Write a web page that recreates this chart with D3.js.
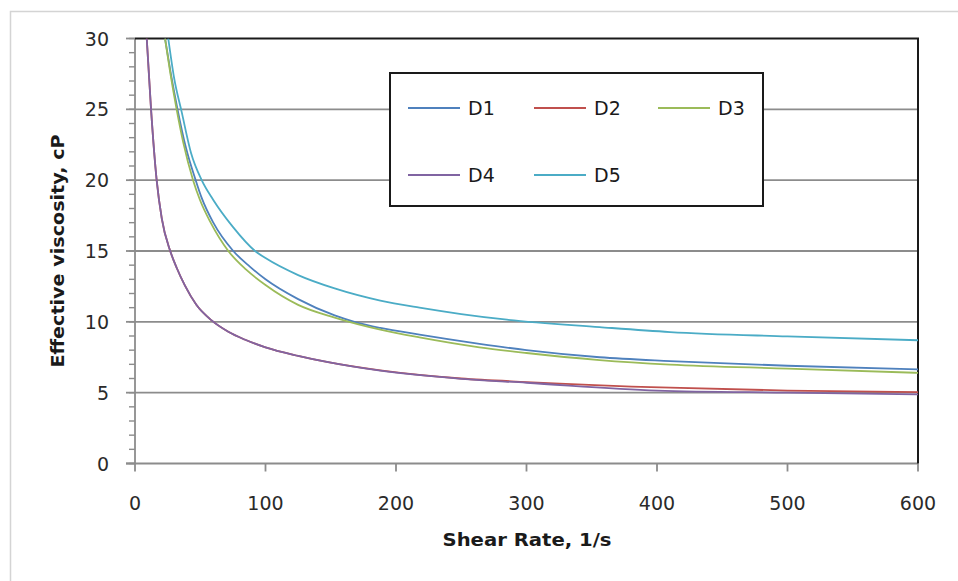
<!DOCTYPE html>
<html>
<head>
<meta charset="utf-8">
<script src="https://cdn.jsdelivr.net/npm/d3@7"></script>
<style>
  html, body { margin: 0; padding: 0; background: #ffffff; }
  svg { display: block; }
  text { font-family: "DejaVu Sans", Verdana, sans-serif; }
</style>
</head>
<body>
<svg id="chart" width="958" height="581"></svg>
<script>
// Effective viscosity (cP) versus shear rate (1/s) for five fluids
const seriesNames = ["D1", "D2", "D3", "D4", "D5"];
const seriesColors = ["#4f81bd", "#c0504d", "#9bbb59", "#8064a2", "#4bacc6"];

const d1Shear = [23, 27.5, 32.6, 39, 46.5, 51.1, 60, 75.3, 88, 100, 125, 153, 170, 188, 218, 264, 300, 356, 410, 500, 600];
const d1Visc  = [30, 27.5, 25, 22.3, 20, 18.75, 17, 15, 13.9, 13.0, 11.6, 10.45, 9.95, 9.57, 9.1, 8.45, 8.0, 7.5, 7.23, 6.9, 6.65];

const d2Shear = [9, 12.3, 16.6, 20.5, 27, 32, 38.3, 47, 58.7, 71.5, 84, 100, 125, 148, 188, 250, 300, 410, 500, 600];
const d2Visc  = [30, 25, 20, 17.3, 15, 13.8, 12.55, 11.2, 10.1, 9.3, 8.75, 8.2, 7.6, 7.15, 6.57, 6.0, 5.75, 5.35, 5.15, 5.04];

const d3Shear = [23, 27, 31.9, 37, 44.5, 49.8, 58, 71.5, 85, 100, 125, 153, 188, 218, 264, 300, 356, 410, 500, 600];
const d3Visc  = [30, 27.6, 25, 22.65, 20, 18.6, 17, 15, 13.7, 12.6, 11.2, 10.3, 9.45, 8.9, 8.2, 7.8, 7.3, 6.98, 6.7, 6.4];

const d4Shear = [9, 12.3, 16.6, 20.5, 27, 32, 38.3, 47, 58.7, 71.5, 84, 100, 125, 148, 188, 250, 300, 400, 500, 600];
const d4Visc  = [30, 25, 20, 17.3, 15, 13.8, 12.55, 11.2, 10.1, 9.3, 8.75, 8.2, 7.6, 7.15, 6.55, 5.98, 5.7, 5.15, 5.0, 4.88];

const d5Shear = [25.5, 30, 35.8, 43, 51.1, 60, 75, 92, 100, 125, 153, 188, 218, 250, 285, 356, 410, 500, 600];
const d5Visc  = [30, 27.2, 24.8, 21.9, 20, 18.6, 16.7, 15, 14.5, 13.3, 12.36, 11.5, 11.0, 10.55, 10.15, 9.63, 9.28, 8.97, 8.7];

const xTicks = [0, 100, 200, 300, 400, 500, 600];
const yTicks = [0, 5, 10, 15, 20, 25, 30];
const yMinorTicks = d3.range(0, 31, 1);

const seriesShear = [d1Shear, d2Shear, d3Shear, d4Shear, d5Shear];
const seriesVisc = [d1Visc, d2Visc, d3Visc, d4Visc, d5Visc];

const svg = d3.select("#chart");

// outer chart frame
svg.append("rect")
  .attr("x", 10.5).attr("y", 11.5)
  .attr("width", 960).attr("height", 600)
  .attr("fill", "#ffffff")
  .attr("stroke", "#d4d4d4").attr("stroke-width", 1.5);

const plot = { left: 135, right: 918, top: 38.5, bottom: 463.5 };

const x = d3.scaleLinear().domain([0, 600]).range([plot.left, plot.right]);
const y = d3.scaleLinear().domain([0, 30]).range([plot.bottom, plot.top]);

// horizontal gridlines
svg.append("g")
  .selectAll("line")
  .data(yTicks.filter(v => v > 0 && v < 30))
  .join("line")
  .attr("x1", plot.left).attr("x2", plot.right)
  .attr("y1", d => y(d)).attr("y2", d => y(d))
  .attr("stroke", "#8c8c8c").attr("stroke-width", 1.8);

// y axis: minor ticks every unit, major every five
const yAxisG = svg.append("g");
yAxisG.selectAll("line.minor")
  .data(yMinorTicks)
  .join("line")
  .attr("class", "minor")
  .attr("x1", plot.left - 6).attr("x2", plot.left)
  .attr("y1", d => y(d)).attr("y2", d => y(d))
  .attr("stroke", "#8c8c8c").attr("stroke-width", 1.4);
yAxisG.selectAll("line.major")
  .data(yTicks)
  .join("line")
  .attr("class", "major")
  .attr("x1", plot.left - 9).attr("x2", plot.left)
  .attr("y1", d => y(d)).attr("y2", d => y(d))
  .attr("stroke", "#8c8c8c").attr("stroke-width", 1.8);
yAxisG.append("line")
  .attr("x1", plot.left).attr("x2", plot.left)
  .attr("y1", plot.top).attr("y2", plot.bottom)
  .attr("stroke", "#8c8c8c").attr("stroke-width", 1.8);
yAxisG.selectAll("text")
  .data(yTicks)
  .join("text")
  .attr("x", 109).attr("y", d => y(d) + 7)
  .attr("text-anchor", "end")
  .attr("font-size", 19)
  .attr("fill", "#2a2a2a")
  .text(d => d);

// x axis
const xAxisG = svg.append("g");
xAxisG.append("line")
  .attr("x1", plot.left - 9).attr("x2", plot.right)
  .attr("y1", plot.bottom).attr("y2", plot.bottom)
  .attr("stroke", "#8c8c8c").attr("stroke-width", 1.8);
xAxisG.selectAll("line.tick")
  .data(xTicks)
  .join("line")
  .attr("class", "tick")
  .attr("x1", d => x(d)).attr("x2", d => x(d))
  .attr("y1", plot.bottom).attr("y2", plot.bottom + 8)
  .attr("stroke", "#8c8c8c").attr("stroke-width", 1.8);
xAxisG.selectAll("text")
  .data(xTicks)
  .join("text")
  .attr("x", d => x(d)).attr("y", 510)
  .attr("text-anchor", "middle")
  .attr("font-size", 19)
  .attr("fill", "#2a2a2a")
  .text(d => d);

// plot frame: dark top and right edges
svg.append("path")
  .attr("d", `M${plot.left},${plot.top}H${plot.right}V${plot.bottom}`)
  .attr("fill", "none")
  .attr("stroke", "#1a1a1a").attr("stroke-width", 2);

// curves
svg.append("clipPath").attr("id", "plotClip")
  .append("rect")
  .attr("x", plot.left).attr("y", plot.top)
  .attr("width", plot.right - plot.left).attr("height", plot.bottom - plot.top);

const line = d3.line()
  .x(d => x(d[0]))
  .y(d => y(d[1]))
  .curve(d3.curveMonotoneX);

const curves = svg.append("g").attr("clip-path", "url(#plotClip)");
// draw order so the later series sit on top
const drawOrder = [0, 2, 4, 1, 3];
drawOrder.forEach(i => {
  const pts = seriesShear[i].map((s, k) => [s, seriesVisc[i][k]]);
  curves.append("path")
    .attr("d", line(pts))
    .attr("fill", "none")
    .attr("stroke", seriesColors[i])
    .attr("stroke-width", 1.8);
});

// legend
const legend = svg.append("g");
legend.append("rect")
  .attr("x", 390).attr("y", 73)
  .attr("width", 373).attr("height", 133)
  .attr("fill", "#ffffff")
  .attr("stroke", "#1a1a1a").attr("stroke-width", 2);
const legendCols = [408, 534, 658];
const legendRows = [108, 175];
seriesNames.forEach((name, i) => {
  const cx = legendCols[i % 3];
  const cy = legendRows[Math.floor(i / 3)];
  legend.append("line")
    .attr("x1", cx).attr("x2", cx + 52)
    .attr("y1", cy).attr("y2", cy)
    .attr("stroke", seriesColors[i]).attr("stroke-width", 1.8);
  legend.append("text")
    .attr("x", cx + 60).attr("y", cy + 7)
    .attr("font-size", 19)
    .attr("fill", "#1a1a1a")
    .text(name);
});

// axis titles
svg.append("text")
  .attr("x", 527).attr("y", 546)
  .attr("text-anchor", "middle")
  .attr("font-size", 18).attr("font-weight", "bold")
  .attr("fill", "#1a1a1a")
  .attr("textLength", 169).attr("lengthAdjust", "spacingAndGlyphs")
  .text("Shear Rate, 1/s");

svg.append("text")
  .attr("transform", "translate(64,251) rotate(-90)")
  .attr("text-anchor", "middle")
  .attr("font-size", 18).attr("font-weight", "bold")
  .attr("fill", "#1a1a1a")
  .attr("textLength", 233).attr("lengthAdjust", "spacingAndGlyphs")
  .text("Effective viscosity, cP");
</script>
</body>
</html>
